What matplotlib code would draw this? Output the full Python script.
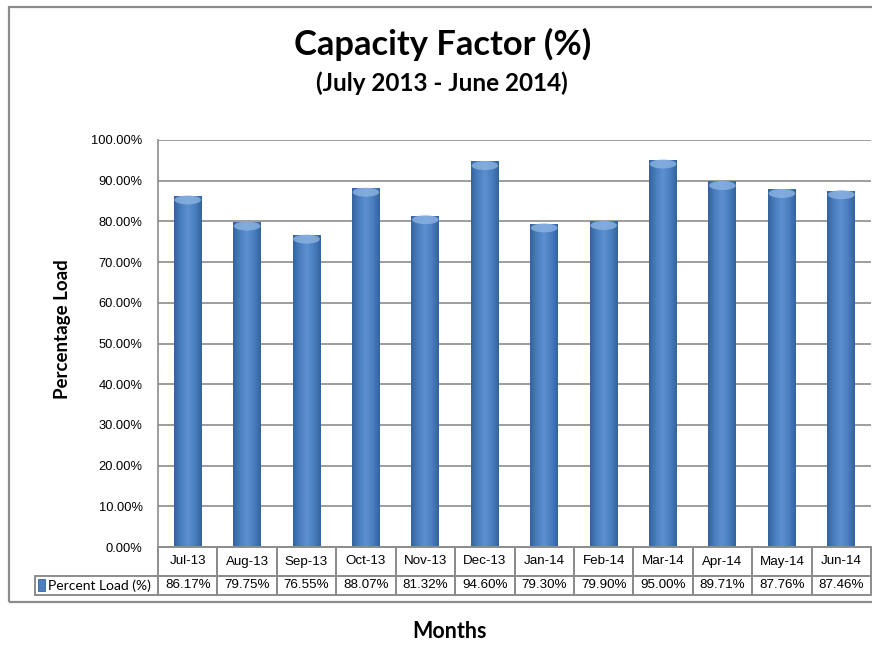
import numpy as np
import matplotlib
matplotlib.use("Agg")
import matplotlib.pyplot as plt
from matplotlib.patches import Rectangle, Ellipse
from matplotlib.colors import LinearSegmentedColormap

months = ["Jul-13", "Aug-13", "Sep-13", "Oct-13", "Nov-13", "Dec-13",
          "Jan-14", "Feb-14", "Mar-14", "Apr-14", "May-14", "Jun-14"]
load_pct = [86.17, 79.75, 76.55, 88.07, 81.32, 94.60,
            79.30, 79.90, 95.00, 89.71, 87.76, 87.46]
series_name = "Percent Load (%)"
yticks = [0, 10, 20, 30, 40, 50, 60, 70, 80, 90, 100]

W, H = 872, 645
fig = plt.figure(figsize=(W / 100, H / 100), dpi=100)

# outer chart border (right edge is cut off in the original)
fig.patches.append(Rectangle((9 / W, 1 - 602 / H), 1.0, (602 - 7) / H,
                             transform=fig.transFigure, fill=False,
                             ec="#8c8c8c", lw=1.6))

x0, x1, ytop, ybot = 158, 871, 140, 547
ax = fig.add_axes([x0 / W, 1 - ybot / H, (x1 - x0) / W, (ybot - ytop) / H])

n = len(months)
bw = 0.47
grad = LinearSegmentedColormap.from_list(
    "cyl", ["#34639e", "#4a7fc0", "#5c90d0", "#4a7fc0", "#34639e"])
g = np.linspace(0, 1, 64)[None, :]
for i, v in enumerate(load_pct):
    ax.imshow(g, cmap=grad, aspect="auto", extent=[i - bw / 2, i + bw / 2, 0, v],
              zorder=3, interpolation="bilinear")
    ax.add_patch(Ellipse((i, v - 0.9), bw * 0.95, 2.2, fc="#8db3e2", ec="none",
                         alpha=0.8, zorder=4))

ax.set_xlim(-0.5, n - 0.5)
ax.set_ylim(0, 100)
ax.set_yticks(yticks)
ax.set_yticklabels([f"{t:.2f}%" for t in yticks], family="Liberation Sans",
                   fontsize=9.3)
ax.tick_params(axis="y", length=0, pad=11)
ax.set_xticks([])
for t in yticks:
    ax.axhline(t, color="#8c8c8c", lw=1.2, zorder=1)
for s in ["top", "right", "bottom"]:
    ax.spines[s].set_visible(False)
ax.spines["left"].set_color("#8c8c8c")
ax.spines["left"].set_linewidth(1.2)

# data table under the plot
rh = 29 / (ybot - ytop) * 100   # row height in data units
lab_left = -0.5 - (x0 - 35) / ((x1 - x0) / n)
tk = dict(clip_on=False, fill=False, ec="#8c8c8c", lw=1.4, zorder=5)
for i, (m, v) in enumerate(zip(months, load_pct)):
    ax.add_patch(Rectangle((i - 0.5, -rh), 1, rh, **tk))
    ax.add_patch(Rectangle((i - 0.5, -2 * rh + 2.5), 1, rh - 2.5, **tk))
    ax.text(i, -rh / 2, m, ha="center", va="center", fontsize=9.6,
            family="Liberation Sans")
    ax.text(i, -1.5 * rh + 1.25, f"{v:.2f}%", ha="center", va="center",
            fontsize=9.6, family="Liberation Sans")
ax.add_patch(Rectangle((lab_left, -2 * rh + 2.5), -0.5 - lab_left, rh - 2.5, **tk))
ax.add_patch(Rectangle((lab_left + 0.05, -1.5 * rh - 0.2), 0.12, 3.0,
                       fc="#4a7fc0", ec="#34639e", lw=0.6, clip_on=False,
                       zorder=6))
ax.text(lab_left + 0.22, -1.5 * rh + 1.25, series_name, ha="left", va="center",
        fontsize=10, family="Lato")

fig.text(62 / W, 1 - 329 / H, "Percentage Load", rotation=90, ha="center",
         va="center", fontsize=13.5, fontweight="bold", family="Lato")
fig.text(449 / W, 1 - 632 / H, "Months", ha="center", va="center",
         fontsize=15.5, fontweight="bold", family="Lato")
fig.text(443 / W, 1 - 44 / H, "Capacity Factor (%)", ha="center", va="center",
         fontsize=24.8, fontweight="bold", family="Lato")
fig.text(442 / W, 1 - 83 / H, "(July 2013 - June 2014)", ha="center",
         va="center", fontsize=17.5, fontweight="bold", family="Lato")

fig.savefig("out.png", dpi=100)
